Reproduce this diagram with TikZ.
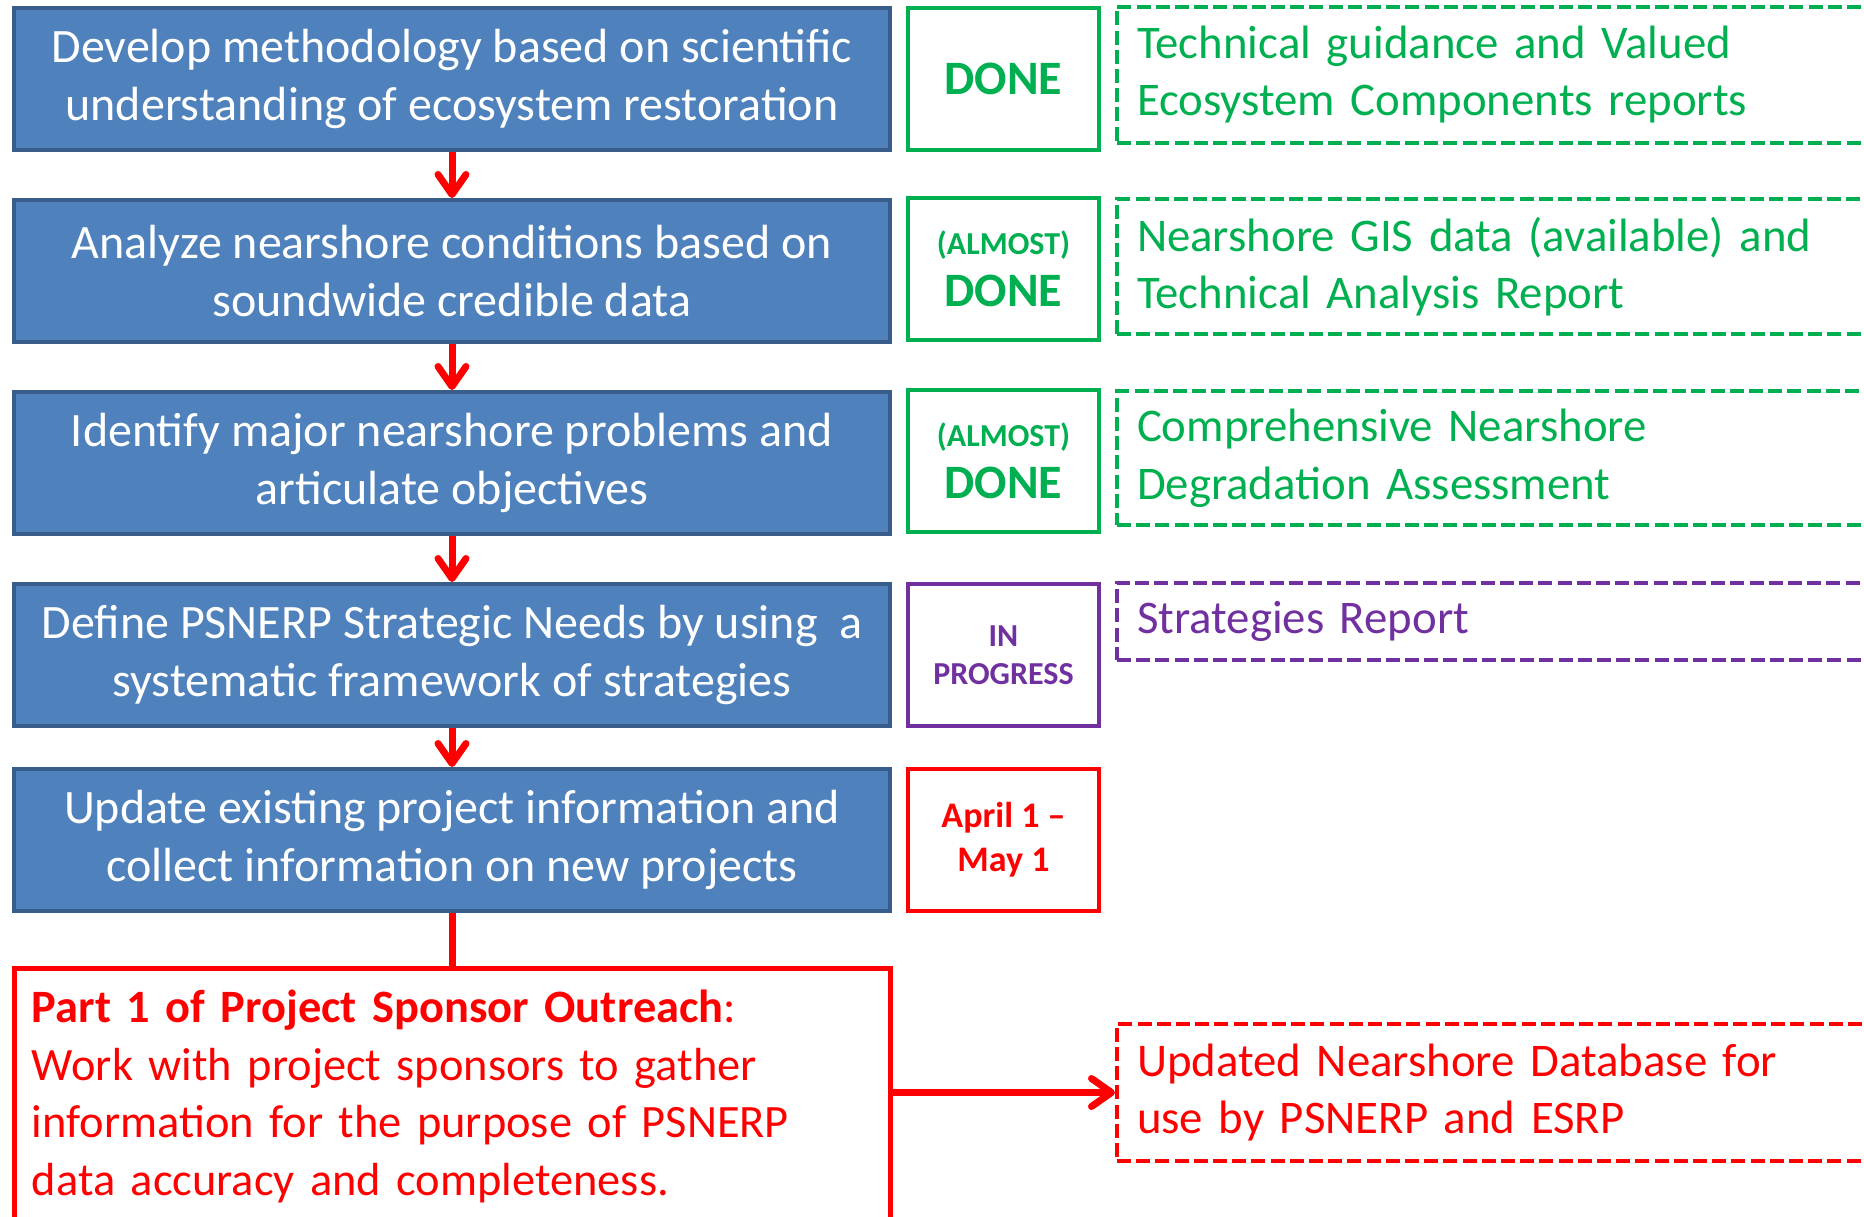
\documentclass[tikz,border=0pt]{standalone}
\usepackage{fontspec}
\setmainfont{Carlito}
\usepackage{tikz}
\usetikzlibrary{positioning,calc}
\usetikzlibrary{arrows.meta}

\definecolor{stepblue}{RGB}{79,129,189}
\definecolor{stepedge}{RGB}{56,93,138}
\definecolor{donegreen}{RGB}{0,176,80}
\definecolor{progpurple}{RGB}{112,48,160}
\definecolor{duered}{RGB}{255,0,0}

\begin{document}
\begin{tikzpicture}[x=0.5pt, y=-0.5pt,
  stepbox/.style={draw=stepedge, line width=2pt, fill=stepblue, text=white, align=center,
    minimum width=438pt, minimum height=71pt, font=\fontsize{24}{28.8}\selectfont},
  statebox/.style={draw=#1, line width=2pt, text=#1, align=center,
    minimum width=95.5pt, minimum height=71pt, font=\bfseries\fontsize{24}{28.8}\selectfont},
  outbox/.style={draw=#1, dash pattern=on 7pt off 2.6pt, line width=2pt, text=#1, anchor=west,
    align=left, text width=420pt, inner xsep=10pt, font=\fontsize{23.4}{28.8}\selectfont},
  flow/.style={draw=duered, line width=3.5pt,
    -{Straight Barb[length=10pt, width=14pt, line cap=round, line join=round]}}]

\useasboundingbox (0, 0) rectangle (1864, 1216);
\clip (0, 0) rectangle (1864, 1216);

\path (452, 79) node[stepbox] (develop) {Develop methodology based on scientific\\understanding of ecosystem restoration};
\path (452, 271) node[stepbox] (analyze) {Analyze nearshore conditions based on\\soundwide credible data};
\path (452, 463) node[stepbox] (identify) {Identify major nearshore problems and\\articulate objectives};
\path (452, 655) node[stepbox] (define) {Define PSNERP Strategic Needs by using~ a\\systematic framework of strategies};
\path (452, 840) node[stepbox] (update) {Update existing project information and\\collect information on new projects};

% status of each step
\path (1003.5, 79) node[statebox=donegreen] (state_develop) {DONE};
\path (1003.5, 269) node[statebox=donegreen] (state_analyze) {\fontsize{16}{19}\selectfont (ALMOST)\\[-3pt]DONE};
\path (1003.5, 461) node[statebox=donegreen] (state_identify) {\fontsize{16}{19}\selectfont (ALMOST)\\[-3pt]DONE};
\path (1003.5, 655) node[statebox=progpurple, font=\bfseries\fontsize{16}{19}\selectfont] (state_define) {IN\\PROGRESS};
\path (1003.5, 840) node[statebox=duered, font=\bfseries\fontsize{18}{22}\selectfont] (state_update) {April 1 –\\May 1};

% products
\path (1115, 74.5) node[outbox=donegreen, minimum height=68pt] (vec_reports) {Technical guidance and Valued\\Ecosystem Components reports};
\path (1115, 266.5) node[outbox=donegreen, minimum height=67.5pt] (gis_data) {Nearshore GIS data (available) and\\Technical Analysis Report};
\path (1115, 458) node[outbox=donegreen, minimum height=67pt] (degradation) {Comprehensive Nearshore\\Degradation Assessment};
\path (1115, 621.5) node[outbox=progpurple, minimum height=38.5pt] (strategies) {Strategies Report};
\path (1115, 1092.5) node[outbox=duered, minimum height=68.5pt] (database) {Updated Nearshore Database for\\use by PSNERP and ESRP};

\path (452, 966) node[draw=duered, line width=2.5pt, text=duered, anchor=north, align=left,
  minimum width=438pt, minimum height=128pt, text width=420pt, inner xsep=9pt,
  font=\fontsize{23.2}{28.8}\selectfont] (outreach) {\textbf{Part 1 of Project Sponsor Outreach}:\\Work with project sponsors to gather\\information for the purpose of PSNERP\\data accuracy and completeness.};

\draw[flow] (develop) -- (analyze);
\draw[flow] (analyze) -- (identify);
\draw[flow] (identify) -- (define);
\draw[flow] (define) -- (update);
\draw[draw=duered, line width=3.5pt] (update) -- (outreach);
\draw[flow] (outreach.east |- database.west) -- (database.west);
\end{tikzpicture}
\end{document}
